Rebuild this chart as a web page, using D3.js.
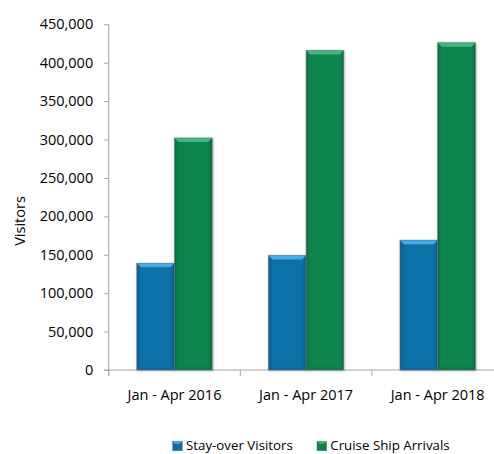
<!DOCTYPE html>
<html>
<head>
<meta charset="utf-8">
<script src="https://cdn.jsdelivr.net/npm/d3@7"></script>
<style>
  html, body { margin: 0; padding: 0; background: #fff; }
  svg { display: block; font-family: "Open Sans", sans-serif; }
</style>
</head>
<body>
<svg id="chart" width="494" height="454"></svg>
<script>
// Visitor arrivals, January to April of each year
const categories = ["Jan - Apr 2016", "Jan - Apr 2017", "Jan - Apr 2018"];
const seriesNames = ["Stay-over Visitors", "Cruise Ship Arrivals"];
const stayOver = [139000, 149000, 169000];
const cruiseShip = [302000, 416000, 426000];
const yTicks = [0, 50000, 100000, 150000, 200000, 250000, 300000, 350000, 400000, 450000];

const seriesValues = [stayOver, cruiseShip];
const palette = {
  "Stay-over Visitors":   { base: "#0f6fa7", light: "#45ade2", dark: "#0b5a88" },
  "Cruise Ship Arrivals": { base: "#08844c", light: "#40b87c", dark: "#066a3c" }
};

const svg = d3.select("#chart");
const plot = { left: 108.7, right: 503.5, top: 24.3, bottom: 370 };

const x = d3.scaleBand().domain(categories).range([plot.left, plot.right]).padding(0);
const xs = d3.scaleBand().domain(seriesNames).range([0, x.bandwidth()])
  .paddingInner(0).paddingOuter(0.745);
const y = d3.scaleLinear().domain([0, 450000]).range([plot.bottom, plot.top]);

// gradients giving each bar darker side edges
const defs = svg.append("defs");
seriesNames.forEach((name, i) => {
  const c = palette[name];
  const g = defs.append("linearGradient").attr("id", "grad" + i)
    .attr("x1", 0).attr("x2", 1).attr("y1", 0).attr("y2", 0);
  g.append("stop").attr("offset", 0).attr("stop-color", c.dark);
  g.append("stop").attr("offset", 0.1).attr("stop-color", c.base);
  g.append("stop").attr("offset", 0.9).attr("stop-color", c.base);
  g.append("stop").attr("offset", 1).attr("stop-color", c.dark);
});
const shadow = defs.append("filter").attr("id", "shadow")
  .attr("x", "-20%").attr("y", "-5%").attr("width", "140%").attr("height", "110%");
shadow.append("feDropShadow").attr("dx", 0.6).attr("dy", 0.6)
  .attr("stdDeviation", 0.8).attr("flood-color", "#000").attr("flood-opacity", 0.35);

const axisColor = "#a6a6a6";

// y axis
const yAxis = svg.append("g").attr("transform", `translate(${plot.left},0)`)
  .call(d3.axisLeft(y).tickValues(yTicks).tickFormat(d3.format(",")).tickSizeOuter(0).tickSize(4.5).tickPadding(11));
yAxis.select(".domain").attr("stroke", axisColor).attr("d", `M0,${plot.top}V${plot.bottom + 6}`);
yAxis.selectAll(".tick line").attr("stroke", axisColor);
yAxis.selectAll(".tick text").attr("fill", "#000").style("font-size", "14.5px")
  .style("font-family", "'Open Sans', sans-serif");

// x axis: baseline with ticks between categories
const xAxis = svg.append("g");
xAxis.append("line").attr("x1", plot.left - 4.5).attr("x2", plot.right)
  .attr("y1", plot.bottom).attr("y2", plot.bottom).attr("stroke", axisColor);
const bounds = categories.map(c => x(c)).concat([x(categories[categories.length - 1]) + x.bandwidth()]);
xAxis.selectAll("line.sep").data(bounds).join("line").attr("class", "sep")
  .attr("x1", d => d).attr("x2", d => d)
  .attr("y1", plot.bottom).attr("y2", plot.bottom + 6).attr("stroke", axisColor);
xAxis.selectAll("text").data(categories).join("text")
  .attr("x", d => x(d) + x.bandwidth() / 2).attr("y", 399.5)
  .attr("text-anchor", "middle").style("font-size", "14.5px").text(d => d);

// bars with bevelled tops
const rows = [];
categories.forEach((c, ci) => seriesNames.forEach((s, si) => rows.push({ c, s, si, v: seriesValues[si][ci] })));

function drawBar(g, x0, w, y0, h, si) {
  const c = palette[seriesNames[si]];
  const b = Math.min(4, w / 4);
  g.append("rect").attr("x", x0).attr("y", y0).attr("width", w).attr("height", h)
    .attr("fill", `url(#grad${si})`).attr("stroke", "#6f7a80").attr("stroke-width", 0.6)
    .attr("filter", "url(#shadow)");
  g.append("path")
    .attr("d", `M${x0 + 0.3},${y0 + 0.3}H${x0 + w - 0.3}L${x0 + w - b},${y0 + b}H${x0 + b}Z`)
    .attr("fill", c.light);
  g.append("path")
    .attr("d", `M${x0 + 0.3},${y0 + h - 0.3}H${x0 + w - 0.3}L${x0 + w - b},${y0 + h - b * 0.6}H${x0 + b}Z`)
    .attr("fill", c.dark).attr("opacity", 0.5);
}

const bars = svg.append("g");
rows.forEach(r => {
  const g = bars.append("g");
  const x0 = x(r.c) + xs(r.s);
  drawBar(g, x0, xs.bandwidth(), y(r.v), y(0) - y(r.v), r.si);
});

// y axis title
svg.append("text").attr("transform", "translate(20,221) rotate(-90)")
  .attr("text-anchor", "middle").attr("dy", "0.35em").style("font-size", "14.5px").text("Visitors");

// legend
const legendItems = [
  { name: seriesNames[0], x: 172.7, si: 0 },
  { name: seriesNames[1], x: 317, si: 1 }
];
const legendTop = 441.2;
const legend = svg.append("g");
legendItems.forEach(it => {
  const g = legend.append("g");
  const c = palette[it.name];
  g.append("rect").attr("x", it.x).attr("y", legendTop).attr("width", 9.6).attr("height", 9.6)
    .attr("fill", `url(#grad${it.si})`).attr("stroke", "#6f7a80").attr("stroke-width", 0.5);
  g.append("path").attr("d", `M${it.x},${legendTop}h9.6l-2.5,2.5h-4.6z`).attr("fill", c.light);
  g.append("text").attr("x", it.x + 13.3).attr("y", 450.3).style("font-size", "13.3px").text(it.name);
});
</script>
</body>
</html>
